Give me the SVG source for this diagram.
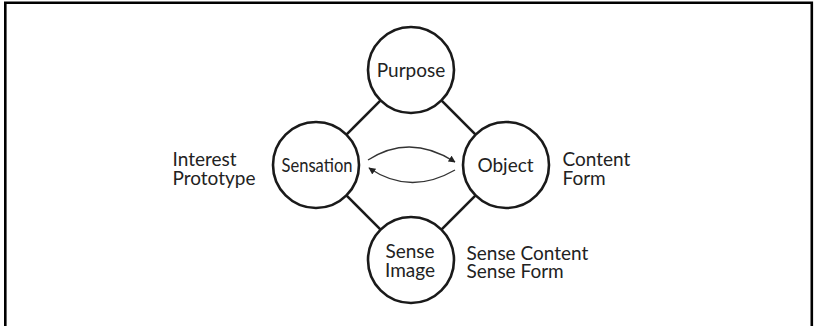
<svg xmlns="http://www.w3.org/2000/svg" width="817" height="326" viewBox="0 0 817 326">
<defs>
<style>
.node{fill:#fff;stroke:#1a1a1a;stroke-width:2.6}
.edge{stroke:#1a1a1a;stroke-width:2.6;fill:none}
.arc{stroke:#333;stroke-width:1.3;fill:none}
text{font-family:Lato,"Open Sans","Liberation Sans",sans-serif;font-size:19px;fill:#222}
.c{text-anchor:middle}
</style>
<marker id="ah" viewBox="0 0 10 10" refX="9" refY="5" markerWidth="7" markerHeight="7" markerUnits="userSpaceOnUse" orient="auto">
<path d="M0,0 L10,5 L0,10 Z" fill="#222"/>
</marker>
</defs>
<rect width="817" height="326" fill="#fff"/>
<path d="M5.3,330 V2.8 H811.8 V330" fill="none" stroke="#000" stroke-width="2.6"/>
<g id="connectors">
<line class="edge" x1="380.6" y1="100.4" x2="346.4" y2="134.6"/>
<line class="edge" x1="441.4" y1="100.4" x2="475.6" y2="134.6"/>
<line class="edge" x1="346.4" y1="195.4" x2="380.6" y2="229.6"/>
<line class="edge" x1="475.6" y1="195.4" x2="441.4" y2="229.6"/>
<path class="arc" d="M368,160 Q410,133 455,162" marker-end="url(#ah)"/>
<path class="arc" d="M455,170 Q410,196 369,168" marker-end="url(#ah)"/>
</g>
<g id="purpose">
<circle class="node" cx="411" cy="70" r="43"/>
<text class="c" x="411" y="77">Purpose</text>
</g>
<g id="sensation">
<circle class="node" cx="316" cy="165" r="43"/>
<text class="c" x="317" y="172" textLength="71" lengthAdjust="spacingAndGlyphs">Sensation</text>
</g>
<g id="object">
<circle class="node" cx="506" cy="165" r="43"/>
<text class="c" x="505.5" y="172">Object</text>
</g>
<g id="sense-image">
<circle class="node" cx="411" cy="260" r="43"/>
<text class="c"><tspan x="410" y="257.5">Sense</tspan><tspan x="410" y="277">Image</tspan></text>
</g>
<g id="labels">
<text><tspan x="172.5" y="166">Interest</tspan><tspan x="172.5" y="184.5">Prototype</tspan></text>
<text><tspan x="562.5" y="166">Content</tspan><tspan x="562.5" y="184.5">Form</tspan></text>
<text><tspan x="466.5" y="259.5">Sense Content</tspan><tspan x="466.5" y="278">Sense Form</tspan></text>
</g>
</svg>
